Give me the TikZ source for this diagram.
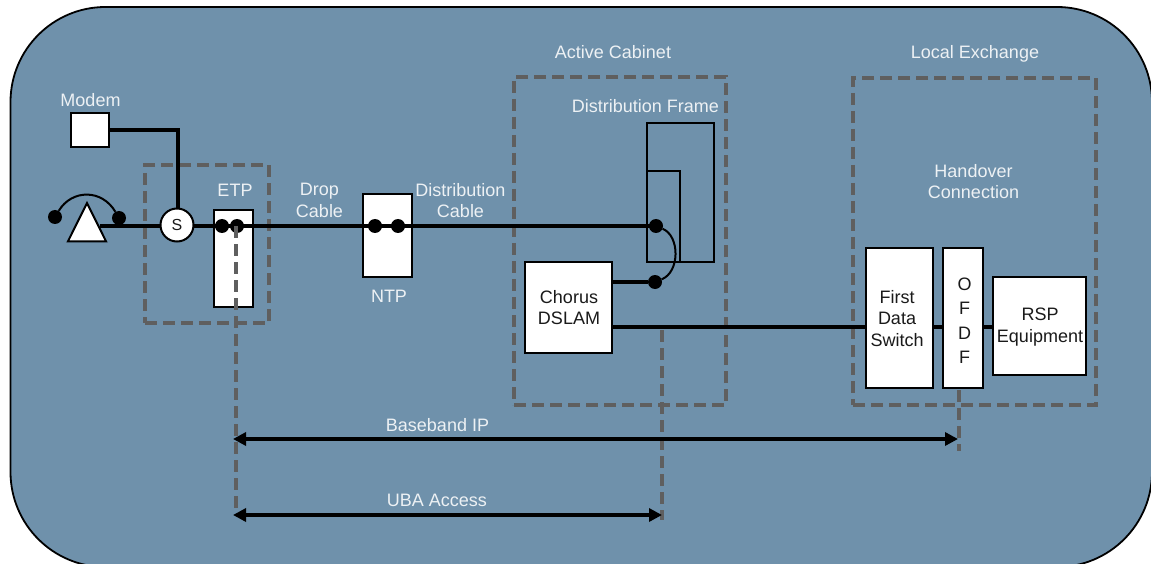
\documentclass[tikz,border=0pt]{standalone}
\usepackage{fontspec}
\setmainfont{Liberation Sans}
\usetikzlibrary{arrows.meta,shapes.geometric}
\definecolor{panel}{HTML}{6F91AB}
\definecolor{dashc}{HTML}{5F5F5F}
\definecolor{lab}{HTML}{EDF1F4}
\definecolor{ink}{HTML}{1A1A1A}
\tikzset{
 x=1pt,y=-1pt,
 wbox/.style={draw=black,fill=white,line width=2pt,inner sep=0pt,text=ink,align=center,font=\fontsize{18}{21.8}\selectfont},
 lbl/.style={text=lab,align=center,inner sep=0pt,font=\fontsize{18}{21.3}\selectfont},
 ink label/.style={text=ink,align=center,inner sep=0pt,font=\fontsize{18}{21.8}\selectfont},
 wire/.style={line width=4pt,black},
 thinw/.style={line width=2pt,black},
 dashb/.style={draw=dashc,line width=4pt,dash pattern=on 12pt off 6pt},
 dot/.style={circle,fill=black,inner sep=0pt,minimum size=14pt},
 dimline/.style={line width=3.5pt,black,{Triangle[length=13pt,width=13pt]}-{Triangle[length=13pt,width=13pt]}},
}
\newcommand{\boxat}[7][]{\node[wbox,minimum width=#4pt-#2pt,minimum height=#5pt-#3pt,anchor=center,#1] (#6) at ({(#2+#4)/2},{(#3+#5)/2}) {#7};}
\begin{document}
\begin{tikzpicture}
\useasboundingbox (0,0) rectangle (1151,564);
\begin{scope}
\clip (0,0) rectangle (1151,564);
\fill[white] (0,0) rectangle (1151,564);
\draw[draw=black,fill=panel,line width=1.8pt,rounded corners=95pt] (10.5,7) rectangle (1152,567);
\end{scope}

% dashed frames (behind the boxes)
\node[dashb,minimum width=124pt,minimum height=158pt,inner sep=0pt] (etpframe) at (207,244) {};
\node[dashb,minimum width=212pt,minimum height=328pt,inner sep=0pt] (cabinet) at (620,241) {};
\node[dashb,minimum width=243pt,minimum height=327pt,inner sep=0pt] (exchange) at (974.5,241.5) {};

% boxes
\boxat{71}{113}{109}{147}{modem}{}
\boxat{214}{210}{253}{307}{etp}{}
\boxat{363}{194}{412}{277}{ntp}{}
\node[draw=black,line width=2pt,minimum width=67pt,minimum height=139pt,inner sep=0pt] (frame) at (680.5,192.5) {};
\node[draw=black,line width=2pt,minimum width=33pt,minimum height=91pt,inner sep=0pt] (frameinner) at (663.5,216.5) {};
\boxat{525}{262}{612}{353}{dslam}{}
\boxat{866}{248}{933}{388}{switch}{}
\boxat{943}{248}{983}{388}{ofdf}{}
\boxat{993}{277}{1086}{375}{rsp}{}
\node[ink label] (dslamText) at (569,307.5) {Chorus\\DSLAM};
\node[ink label] (switchText) at (897,318.5) {First\\Data\\Switch};
\node[ink label,font=\fontsize{18}{24.5}\selectfont] (ofdfText) at (964.5,320.5) {O\\F\\D\\F};
\node[ink label] (rspText) at (1040,327) {RSP\\Equipment};

% dots
\node[dot] (phoneL) at (55,217) {};
\node[dot] (phoneR) at (119,218) {};
\node[dot] (etpA) at (222,226) {};
\node[dot] (etpB) at (237,226) {};
\node[dot] (ntpA) at (375,226) {};
\node[dot] (ntpB) at (398,226) {};
\node[dot] (frameA) at (656,226) {};
\node[dot] (frameB) at (655,282) {};
\coordinate (triR) at (100,226);
\coordinate (modemCorner) at (178,130);
\coordinate (uTop) at (662,330);
\coordinate (uBot) at (662,520);
\coordinate (bTop) at (959,390);
\coordinate (bBot) at (959,451);
\coordinate (eTop) at (235.5,226);
\coordinate (eBot) at (235.5,508);
\coordinate (arrL1) at (233,439);
\coordinate (arrR1) at (958,439);
\coordinate (arrL2) at (233,515);
\coordinate (arrR2) at (662,515);

\draw[wire] (triR) -- (frameA.center);
\draw[wire] (modem.east |- modemCorner) -- (modemCorner) -- (178,225);
\draw[wire] (dslam.east |- frameB) -- (frameB);
\draw[wire] (dslam.east |- 0,327) -- (switch.west |- 0,327);
\draw[wire] (switch.east |- 0,327) -- (ofdf.west |- 0,327);
\draw[wire] (ofdf.east |- 0,327) -- (rsp.west |- 0,327);
\draw[thinw] (phoneL) .. controls (72,189) and (102,189) .. (phoneR);
\draw[thinw] (frameA) .. controls (680,236) and (680,272) .. (frameB);

\node[draw=black,fill=white,line width=2pt,isosceles triangle,isosceles triangle apex angle=53,shape border rotate=90,inner sep=0pt,minimum height=38pt,minimum width=38pt] (phone) at (87,229.5) {};
\node[circle,draw=black,fill=white,line width=2pt,minimum size=33pt,inner sep=0pt,text=ink,font=\fontsize{16}{18}\selectfont] (split) at (177,225) {S};

% dashed verticals
\draw[dashb] (eTop) -- (eBot);
\draw[dashb] (uTop) -- (uBot);
\draw[dashb] (bTop) -- (bBot);

% dimension arrows
\draw[dimline] (arrL1) -- (arrR1);
\draw[dimline] (arrL2) -- (arrR2);

% labels
\node[lbl] (tModem) at (90.5,100) {Modem};
\node[lbl] (tEtp) at (235,190) {ETP};
\node[lbl] (tDrop) at (319.5,200.5) {Drop\\Cable};
\node[lbl] (tNtp) at (389,296) {NTP};
\node[lbl] (tDist) at (460.5,200.5) {Distribution\\Cable};
\node[lbl] (tActive) at (613,52) {Active Cabinet};
\node[lbl] (tFrame) at (645.5,106) {Distribution Frame};
\node[lbl] (tLocal) at (975,54) {Local Exchange};
\node[lbl] (tHand) at (973.5,181.5) {Handover\\Connection};
\node[lbl] (tBase) at (437.5,425) {Baseband IP};
\node[lbl] (tUba) at (437,500) {UBA Access};
\end{tikzpicture}
\end{document}
